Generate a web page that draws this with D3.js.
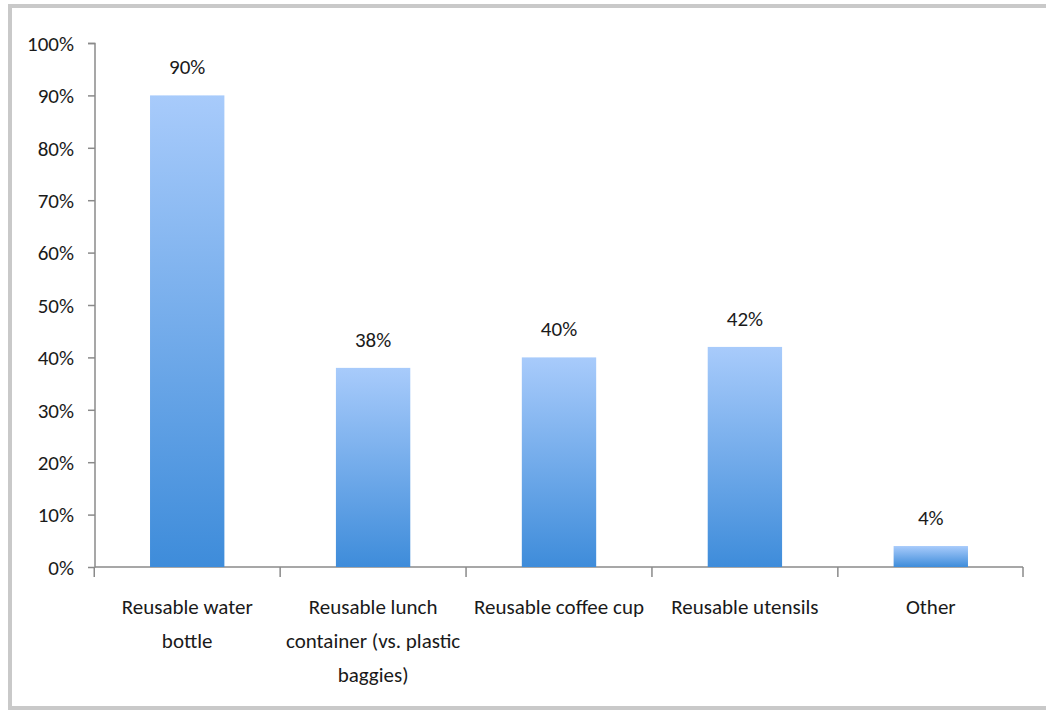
<!DOCTYPE html>
<html><head><meta charset="utf-8">
<script src="https://cdn.jsdelivr.net/npm/d3@7"></script>
<style>
html,body{margin:0;padding:0;background:#fff;}
svg{display:block;}
text{font-family:Carlito,Lato,"Open Sans",sans-serif;fill:#1a1a1a;}
</style></head>
<body>
<svg id="chart" width="1046" height="711"></svg>
<script>
const categories = ["Reusable water bottle","Reusable lunch container (vs. plastic baggies)","Reusable coffee cup","Reusable utensils","Other"];
const categoryLines = [["Reusable water","bottle"],["Reusable lunch","container (vs. plastic","baggies)"],["Reusable coffee cup"],["Reusable utensils"],["Other"]];
const values = [90,38,40,42,4];
const yTicks = [0,10,20,30,40,50,60,70,80,90,100];

const svg = d3.select("#chart");
// frame
svg.append("path").attr("d","M1050,6 H10 V708 H1050").attr("fill","none").attr("stroke","#c9c9c9").attr("stroke-width",4);

const defs = svg.append("defs");
const g = defs.append("linearGradient").attr("id","barGrad").attr("x1",0).attr("y1",0).attr("x2",0).attr("y2",1);
g.append("stop").attr("offset","0%").attr("stop-color","#a8cbfb");
g.append("stop").attr("offset","100%").attr("stop-color","#3e8cda");

const x = d3.scaleBand().domain(categories).range([95,1023]).paddingInner(0.6).paddingOuter(0.296);
const y = d3.scaleLinear().domain([0,100]).range([567,43]);

// y axis
const ya = svg.append("g").attr("transform","translate(95,0)")
  .call(d3.axisLeft(y).tickValues(yTicks).tickFormat(d=>d+"%").tickSize(7).tickPadding(14));
ya.select(".domain").attr("stroke","#8a8a8a").attr("stroke-width",1.5).attr("d","M-7,43.5H0V567.5");
ya.selectAll(".tick line").attr("stroke","#8a8a8a").attr("stroke-width",1.5);
ya.selectAll(".tick text").style("font-size","21px").attr("fill","#1a1a1a").attr("dy","0.35em");

// x axis
const xa = svg.append("g").attr("transform","translate(0,567)");
xa.append("line").attr("x1",95).attr("x2",1023).attr("y1",0).attr("y2",0).attr("stroke","#8a8a8a").attr("stroke-width",1.5);
const bounds = categories.map(c=>x(c)-x.step()*x.paddingInner()/2);
bounds.push(1023);
xa.selectAll("line.tk").data(bounds).join("line").attr("class","tk")
  .attr("x1",d=>d).attr("x2",d=>d).attr("y1",0).attr("y2",10).attr("stroke","#8a8a8a").attr("stroke-width",1.5);

// bars
svg.selectAll("rect.bar").data(values).join("rect").attr("class","bar")
  .attr("x",(d,i)=>x(categories[i])).attr("width",x.bandwidth())
  .attr("y",d=>y(d)).attr("height",d=>y(0)-y(d)).attr("fill","url(#barGrad)");

// value labels
svg.selectAll("text.val").data(values).join("text").attr("class","val")
  .attr("x",(d,i)=>x(categories[i])+x.bandwidth()/2).attr("y",d=>y(d)-21)
  .attr("text-anchor","middle").style("font-size","21px").text(d=>d+"%");

// category labels
categoryLines.forEach((lines,i)=>{
  const cx = x(categories[i])+x.bandwidth()/2;
  const t = svg.append("text").attr("text-anchor","middle").style("font-size","21px");
  lines.forEach((ln,j)=>t.append("tspan").attr("x",cx).attr("y",614+34*j).text(ln));
});
</script>
</body></html>
